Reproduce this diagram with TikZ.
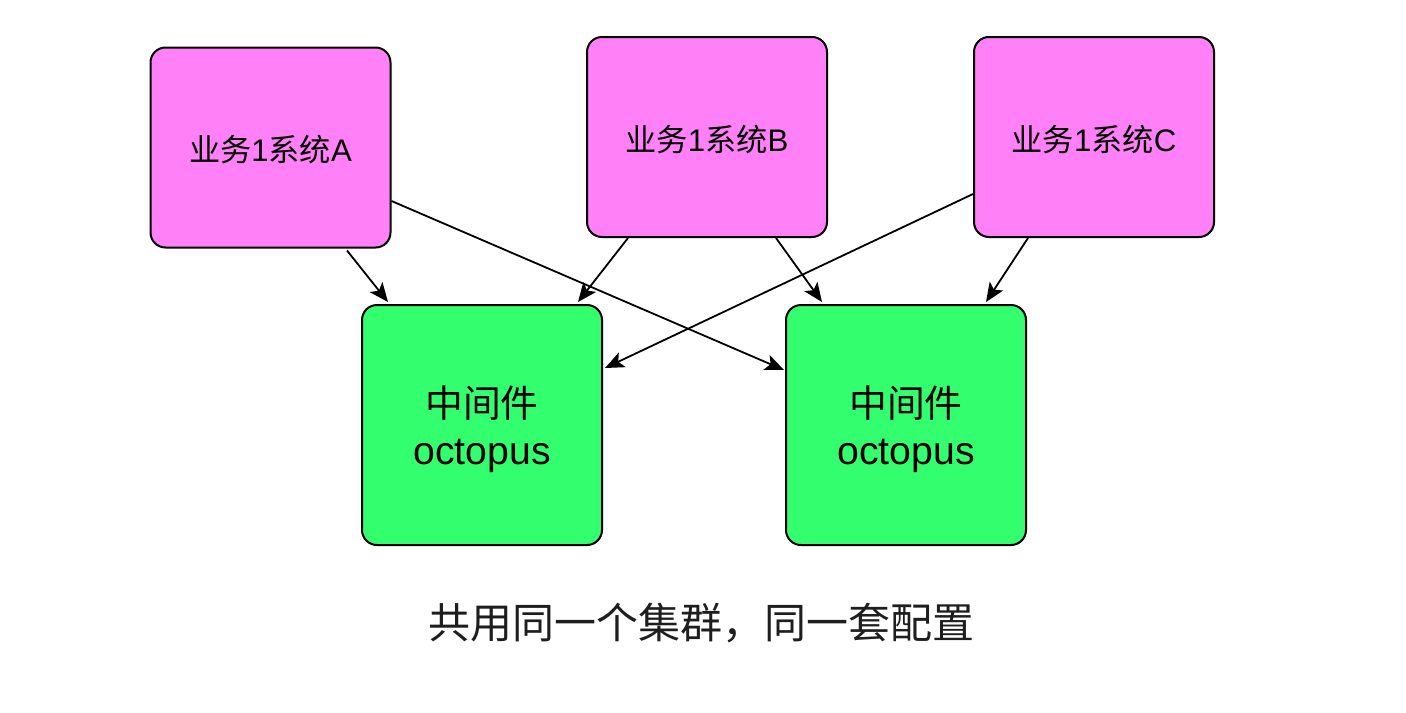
\documentclass[tikz,border=0pt]{standalone}
\usepackage{fontspec}
\setmainfont{Liberation Sans}
\newfontfamily\cjk{Noto Sans CJK SC}
\usetikzlibrary{arrows.meta}
\definecolor{pinkfill}{HTML}{FF80F7}
\definecolor{greenfill}{HTML}{33FF6E}
\definecolor{captext}{HTML}{1E1E1E}
\tikzset{
  sysbox/.style={draw=black, line width=1pt, fill=pinkfill, rounded corners=7.5pt,
    minimum width=120pt, minimum height=100pt, inner sep=0pt, align=center,
    font=\fontsize{15.6pt}{18pt}\selectfont},
  midbox/.style={draw=black, line width=1pt, fill=greenfill, rounded corners=7.5pt,
    minimum width=120pt, minimum height=120pt, inner sep=0pt, align=center,
    font=\fontsize{19.6pt}{23.5pt}\selectfont},
  conn/.style={draw=black, line width=0.9pt, -{Stealth[length=9.5pt,width=8pt,inset=2.2pt]}},
}
\begin{document}
\begin{tikzpicture}[x=0.5pt,y=-0.5pt]
\useasboundingbox (0,0) rectangle (1406,712);
\node[sysbox] (A) at (270.5,147.5) {};
\node[sysbox] (B) at (707,137) {};
\node[sysbox] (C) at (1094,137) {};
\node[midbox] (M1) at (482,425) {};
\node[midbox] (M2) at (906,425) {};
\node[font=\fontsize{15.6pt}{18pt}\selectfont, inner sep=0pt] (tA) at (270.5,150) {{\cjk 业务}1{\cjk 系统}A};
\node[font=\fontsize{15.6pt}{18pt}\selectfont, inner sep=0pt] (tB) at (707,139.5) {{\cjk 业务}1{\cjk 系统}B};
\node[font=\fontsize{15.6pt}{18pt}\selectfont, inner sep=0pt] (tC) at (1094,139.5) {{\cjk 业务}1{\cjk 系统}C};
\node[font=\fontsize{19.6pt}{23.5pt}\selectfont, align=center, inner sep=0pt] (tM1) at (482,429) {{\cjk\fontsize{18.9pt}{23.5pt}\selectfont 中间件}\\octopus};
\node[font=\fontsize{19.6pt}{23.5pt}\selectfont, align=center, inner sep=0pt] (tM2) at (906,429) {{\cjk\fontsize{18.9pt}{23.5pt}\selectfont 中间件}\\octopus};
\node[font=\cjk\fontsize{21pt}{24pt}\selectfont, text=captext, inner sep=0pt] (cap) at (701,623) {共用同一个集群，同一套配置};
\draw[conn] ([shift={(76.5,2)}]A.south) -- ([shift={(-94,-2)}]M1.north);
\draw[conn] ([shift={(0,53.5)}]A.east) -- ([shift={(-1,-55)}]M2.west);
\draw[conn] ([shift={(-79,0)}]B.south) -- ([shift={(96,-2)}]M1.north);
\draw[conn] ([shift={(69,0)}]B.south) -- ([shift={(-84,-2)}]M2.north);
\draw[conn] ([shift={(0,57)}]C.west) -- ([shift={(2,-57)}]M1.east);
\draw[conn] ([shift={(-66,0)}]C.south) -- ([shift={(80,-2)}]M2.north);
\end{tikzpicture}
\end{document}
